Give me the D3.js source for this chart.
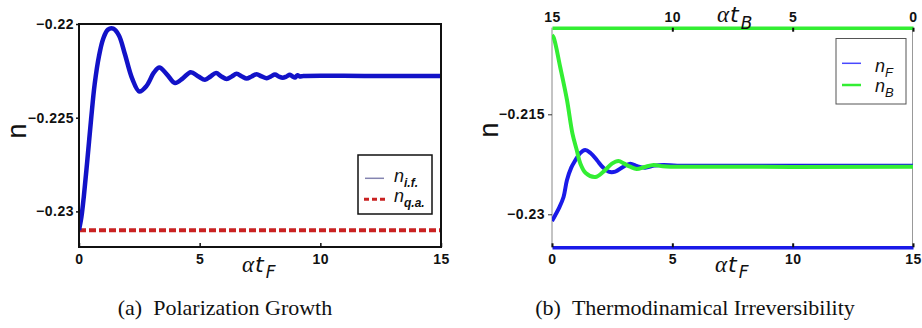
<!DOCTYPE html>
<html>
<head>
<meta charset="utf-8">
<script src="https://cdn.jsdelivr.net/npm/d3@7"></script>
<style>
  body { margin: 0; background: #fff; }
  .tick text { font-family: "Liberation Sans", Arial, sans-serif; font-weight: bold; font-size: 14px; letter-spacing: 0.5px; fill: #111; }
</style>
</head>
<body>
<svg id="chart" width="922" height="328"></svg>
<script>
// ---- panel (a): polarization growth ----
const tIF = [0, 0.1, 0.2, 0.35, 0.5, 0.65, 0.83, 1.0, 1.2, 1.42, 1.65, 1.9, 2.2, 2.5, 2.8, 3.1, 3.33, 3.65, 3.98, 4.3, 4.63, 4.95, 5.22, 5.45, 5.68, 5.9, 6.12, 6.33, 6.53, 6.75, 6.95, 7.15, 7.36, 7.57, 7.78, 7.95, 8.12, 8.28, 8.44, 8.6, 8.74, 8.85, 8.95, 9.05, 9.15, 9.3, 12, 15];
const nIF = [-0.2310, -0.2303, -0.2292, -0.2272, -0.2251, -0.2232, -0.2217, -0.2208, -0.2203, -0.22025, -0.2206, -0.2216, -0.2229, -0.2236, -0.2233, -0.2226, -0.22232, -0.2227, -0.22315, -0.2229, -0.22257, -0.2228, -0.22298, -0.2228, -0.22262, -0.2228, -0.22293, -0.2228, -0.22266, -0.2228, -0.22291, -0.2228, -0.22268, -0.2228, -0.22289, -0.2228, -0.2227, -0.2228, -0.22287, -0.2228, -0.22271, -0.2228, -0.22286, -0.22273, -0.2228, -0.22277, -0.22277, -0.22277];
const tQA = [0, 15];
const nQA = [-0.2310, -0.2310];

// ---- panel (b): thermodynamical irreversibility ----
const tF = [0, 0.14, 0.3, 0.48, 0.62, 0.8, 0.97, 1.15, 1.38, 1.6, 1.87, 2.1, 2.35, 2.63, 2.95, 3.25, 3.55, 3.87, 4.25, 4.63, 5.2, 8, 15];
const nF = [-0.2310, -0.2301, -0.2290, -0.2274, -0.2249, -0.2230, -0.2219, -0.2209, -0.22036, -0.2208, -0.2219, -0.2229, -0.2236, -0.2236, -0.2229, -0.2224, -0.2228, -0.2230, -0.2227, -0.2226, -0.2227, -0.2227, -0.2227];
// n_B plotted against the forward time axis (t_B = 15 - t_F)
const tBF = [0, 0.07, 0.34, 0.62, 0.85, 1.03, 1.17, 1.4, 1.8, 2.14, 2.49, 2.76, 3.0, 3.25, 3.52, 3.85, 4.22, 4.6, 5.0, 15];
const nB = [-0.2031, -0.2035, -0.2079, -0.2128, -0.2179, -0.2204, -0.2223, -0.2238, -0.2244, -0.2236, -0.2224, -0.2220, -0.2224, -0.22286, -0.2232, -0.2229, -0.2226, -0.2228, -0.22286, -0.22286];

const xTicks = [0, 5, 10, 15];
const yTicksA = [-0.22, -0.225, -0.23];
const yTicksB = [-0.215, -0.23];
const captions = ["(a)\u2002Polarization Growth", "(b)\u2002Thermodinamical Irreversibility"];

const BLUE = "#1212c8", BLUE_B = "#1a1ae8", RED = "#c92222", GREEN = "#33ee33";
const svg = d3.select("#chart");
const fmt = d3.format(".3~f");
const zip = (a, b) => a.map((v, i) => [v, b[i]]);

function axisLabel(g, x, y, sub) {
  const t = g.append("text").attr("x", x).attr("y", y).attr("fill", "#111");
  t.append("tspan").attr("font-family", "'Liberation Serif', serif").attr("font-style", "italic").attr("font-size", 23).text("\u03b1");
  t.append("tspan").attr("font-family", "'DejaVu Sans', sans-serif").attr("font-style", "oblique").attr("font-size", 22).attr("dx", 1).text("t");
  t.append("tspan").attr("font-family", "'DejaVu Sans', sans-serif").attr("font-style", "oblique").attr("font-size", 17).attr("dx", 2).attr("dy", 6.5).text(sub);
}

function legendItem(g, x, y, main, sub, subStyle) {
  const t = g.append("text").attr("x", x).attr("y", y).attr("fill", "#111")
    .attr("font-family", "'Liberation Sans', Arial, sans-serif").attr("font-style", "italic");
  t.append("tspan").attr("font-size", 18).text(main);
  t.append("tspan").attr("font-size", subStyle.size).attr("font-weight", subStyle.weight).attr("dy", 5).text(sub);
}

function caption(g, cx, text) {
  g.append("text").attr("x", cx).attr("y", 315).attr("text-anchor", "middle")
    .attr("font-family", "'Liberation Serif', 'Times New Roman', serif").attr("font-size", 22).attr("fill", "#111")
    .text(text);
}

// ================= panel (a) =================
{
  const x = d3.scaleLinear().domain([0, 15]).range([79, 441]);
  const y = d3.scaleLinear().domain([-0.2319, -0.22]).range([247, 24]);
  const g = svg.append("g");

  g.append("clipPath").attr("id", "clipA").append("rect")
    .attr("x", 79).attr("y", 20).attr("width", 362).attr("height", 227);

  const line = d3.line().x(d => x(d[0])).y(d => y(d[1])).curve(d3.curveCatmullRom.alpha(0.5));

  g.append("path").datum(zip(tQA, nQA)).attr("d", line).attr("clip-path", "url(#clipA)")
    .attr("fill", "none").attr("stroke", RED).attr("stroke-width", 4).attr("stroke-dasharray", "7,3");
  g.append("path").datum(zip(tIF, nIF)).attr("d", line).attr("clip-path", "url(#clipA)")
    .attr("fill", "none").attr("stroke", BLUE).attr("stroke-width", 4.5).attr("stroke-linejoin", "round");

  g.append("rect").attr("x", 79).attr("y", 24).attr("width", 362).attr("height", 223)
    .attr("fill", "none").attr("stroke", "#111").attr("stroke-width", 2);

  const ax = g.append("g").attr("transform", "translate(0,247)")
    .call(d3.axisBottom(x).tickValues(xTicks).tickSize(-4).tickPadding(7).tickFormat(d3.format("d")));
  ax.select(".domain").remove();
  ax.selectAll(".tick line").attr("stroke", "#111").attr("stroke-width", 1.5);

  const ay = g.append("g").attr("transform", "translate(79,0)")
    .call(d3.axisLeft(y).tickValues(yTicksA).tickSize(3).tickPadding(2).tickFormat(fmt));
  ay.select(".domain").remove();
  ay.selectAll(".tick line").attr("stroke", "#111").attr("stroke-width", 1.5);

  axisLabel(g, 242, 271.5, "F");
  g.append("text").attr("transform", "translate(26,131) rotate(-90)").attr("text-anchor", "middle")
    .attr("font-family", "'Liberation Sans', Arial, sans-serif").attr("font-size", 27).attr("fill", "#111").text("n");

  // legend
  const lg = g.append("g");
  lg.append("rect").attr("x", 358).attr("y", 155).attr("width", 74).attr("height", 59)
    .attr("fill", "#fff").attr("stroke", "#111").attr("stroke-width", 1.5);
  lg.append("line").attr("x1", 365).attr("x2", 384).attr("y1", 178.3).attr("y2", 178.3)
    .attr("stroke", "#8484b0").attr("stroke-width", 1.5);
  lg.append("line").attr("x1", 364).attr("x2", 386).attr("y1", 199.3).attr("y2", 199.3)
    .attr("stroke", RED).attr("stroke-width", 3).attr("stroke-dasharray", "5,3");
  legendItem(lg, 394, 181.5, "n", "i.f.", { size: 12, weight: "bold" });
  legendItem(lg, 394, 201.5, "n", "q.a.", { size: 12, weight: "bold" });

  caption(g, 225, captions[0]);
}

// ================= panel (b) =================
{
  const x = d3.scaleLinear().domain([0, 15]).range([552, 913]);
  const xTop = d3.scaleLinear().domain([15, 0]).range([552, 913]);
  const y = d3.scaleLinear().domain([-0.23495, -0.20201]).range([247.3, 27.7]);
  const g = svg.append("g");

  g.append("clipPath").attr("id", "clipB").append("rect")
    .attr("x", 552).attr("y", 27.7).attr("width", 361).attr("height", 219.6);

  const line = d3.line().x(d => x(d[0])).y(d => y(d[1])).curve(d3.curveCatmullRom.alpha(0.5));

  // side frame lines
  g.append("line").attr("x1", 552).attr("x2", 552).attr("y1", 27.7).attr("y2", 247.3).attr("stroke", "#888").attr("stroke-width", 1);
  g.append("line").attr("x1", 912.5).attr("x2", 912.5).attr("y1", 27.7).attr("y2", 247.3).attr("stroke", "#999").attr("stroke-width", 1);

  g.append("path").datum(zip(tF, nF)).attr("d", line).attr("clip-path", "url(#clipB)")
    .attr("fill", "none").attr("stroke", BLUE_B).attr("stroke-width", 4).attr("stroke-linejoin", "round");
  g.append("path").datum(zip(tBF, nB)).attr("d", line).attr("clip-path", "url(#clipB)")
    .attr("fill", "none").attr("stroke", GREEN).attr("stroke-width", 4).attr("stroke-linejoin", "round");

  // bottom axis (forward time), drawn in the n_F colour
  const ax = g.append("g").attr("transform", "translate(0,247.3)")
    .call(d3.axisBottom(x).tickValues(xTicks).tickSizeInner(-4).tickSizeOuter(0).tickPadding(7).tickFormat(d3.format("d")));
  ax.select(".domain").attr("stroke", BLUE_B).attr("stroke-width", 3.5);
  ax.selectAll(".tick line").attr("stroke", "#111").attr("stroke-width", 2);

  // top axis (backward time), drawn in the n_B colour
  const at = g.append("g").attr("transform", "translate(0,27.7)")
    .call(d3.axisTop(xTop).tickValues(xTicks).tickSizeInner(-4).tickSizeOuter(0).tickPadding(6).tickFormat(d3.format("d")));
  at.select(".domain").attr("stroke", GREEN).attr("stroke-width", 3.5);
  at.selectAll(".tick line").attr("stroke", "#111").attr("stroke-width", 2);
  at.selectAll(".tick").filter(d => d === 15).select("line").remove();

  const ay = g.append("g").attr("transform", "translate(552,0)")
    .call(d3.axisLeft(y).tickValues(yTicksB).tickSize(4).tickPadding(3).tickFormat(fmt));
  ay.select(".domain").remove();
  ay.selectAll(".tick line").attr("stroke", "#333").attr("stroke-width", 1);

  axisLabel(g, 715, 271.5, "F");
  axisLabel(g, 717, 22, "B");
  g.append("text").attr("transform", "translate(498,130) rotate(-90)").attr("text-anchor", "middle")
    .attr("font-family", "'Liberation Sans', Arial, sans-serif").attr("font-size", 27).attr("fill", "#111").text("n");

  // legend
  const lg = g.append("g");
  lg.append("rect").attr("x", 836).attr("y", 38.5).attr("width", 70).attr("height", 65.5)
    .attr("fill", "#fff").attr("stroke", "#555").attr("stroke-width", 1);
  lg.append("line").attr("x1", 842).attr("x2", 861).attr("y1", 63.3).attr("y2", 63.3)
    .attr("stroke", "#4848ff").attr("stroke-width", 1.5);
  lg.append("line").attr("x1", 842).attr("x2", 861).attr("y1", 85).attr("y2", 85)
    .attr("stroke", GREEN).attr("stroke-width", 2.5);
  legendItem(lg, 875, 72, "n", "F", { size: 13, weight: "normal" });
  legendItem(lg, 875, 92, "n", "B", { size: 13, weight: "normal" });

  caption(g, 695, captions[1]);
}
</script>
</body>
</html>
